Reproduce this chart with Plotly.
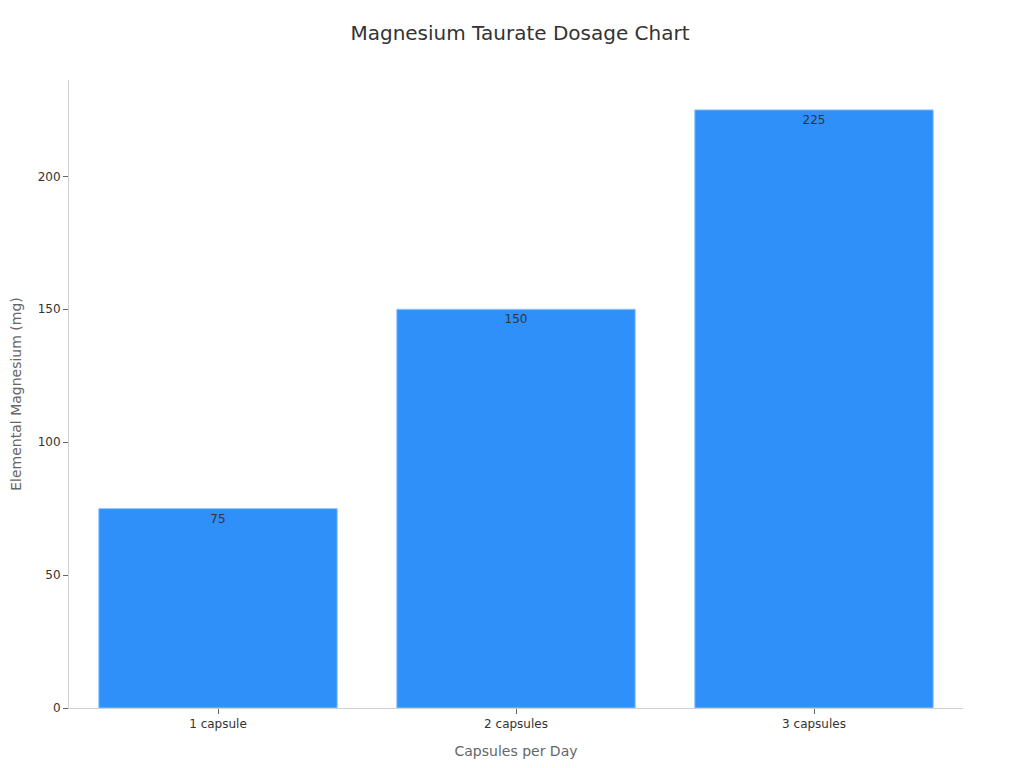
import plotly.graph_objects as go

categories = ["1 capsule", "2 capsules", "3 capsules"]
magnesium_mg = [75, 150, 225]
y_ticks = [0, 50, 100, 150, 200]

fig = go.Figure(
    go.Bar(
        x=categories,
        y=magnesium_mg,
        text=[str(v) for v in magnesium_mg],
        textposition="inside",
        insidetextanchor="end",
        textfont=dict(color="#333333", size=12),
        marker=dict(color="#2E90F8", line=dict(color="#8EC3FB", width=1)),
        hoverinfo="skip",
    )
)

fig.update_layout(
    width=1024,
    height=768,
    font=dict(family="DejaVu Sans, sans-serif", color="#333333"),
    title=dict(text="Magnesium Taurate Dosage Chart", x=0.5, xanchor="center",
               y=0.967, yanchor="middle", font=dict(size=20, color="#333333")),
    margin=dict(l=61, r=69, t=72, b=68),
    plot_bgcolor="white",
    paper_bgcolor="white",
    bargap=0.2,
    showlegend=False,
    xaxis=dict(
        title=dict(text="Capsules per Day", font=dict(size=14, color="#666666"), standoff=15),
        showline=True, linecolor="#D0D0D0", linewidth=1,
        ticks="outside", ticklen=5, tickcolor="#666666",
        tickfont=dict(size=12, color="#333333"),
        showgrid=False, automargin=False,
    ),
    yaxis=dict(
        title=dict(text="Elemental Magnesium (mg)", font=dict(size=14, color="#666666"), standoff=14),
        range=[0, 236.25],
        tickvals=y_ticks,
        showline=True, linecolor="#D0D0D0", linewidth=1,
        ticks="outside", ticklen=5, tickcolor="#666666",
        tickfont=dict(size=12, color="#333333"),
        showgrid=False, zeroline=False, automargin=False,
    ),
)

fig.write_html("out.html")
